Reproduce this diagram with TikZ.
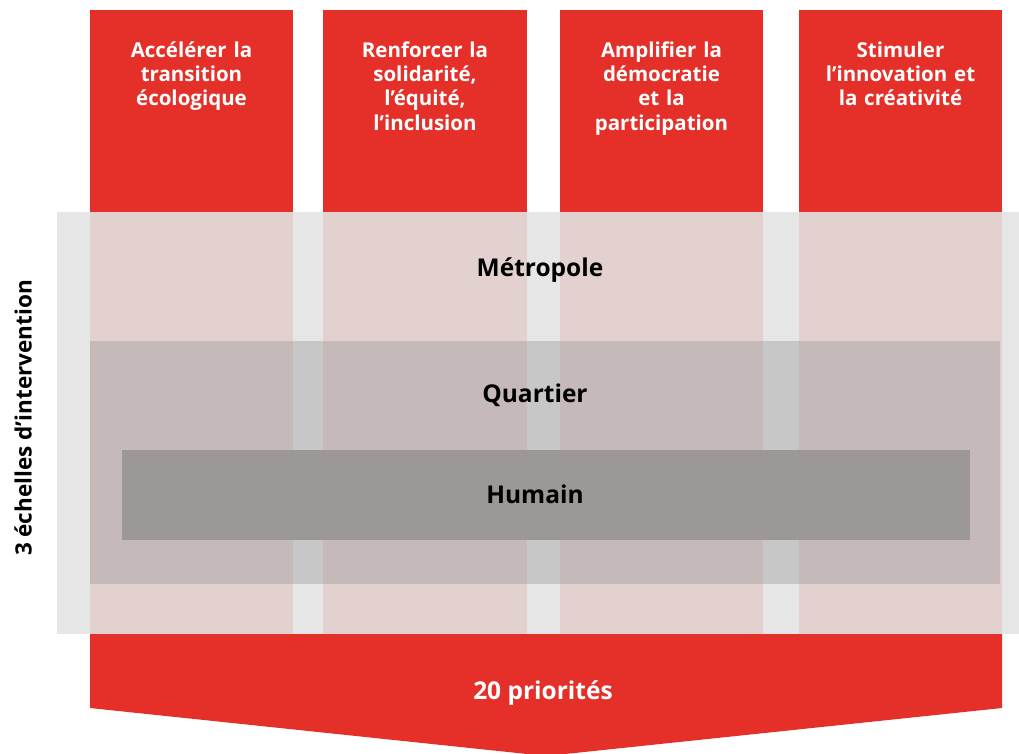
\documentclass[tikz,border=0pt]{standalone}
\usepackage{fontspec}
\setmainfont{Open Sans}
\usetikzlibrary{positioning}

\definecolor{rouge}{HTML}{E5302A}
\definecolor{voile}{HTML}{E3E3E3}
\definecolor{ombre}{HTML}{929292}
\definecolor{humaingris}{HTML}{9C9895}

\tikzset{
  axe/.style={anchor=north, text width=200pt, align=center, text=white,
    font=\bfseries\fontsize{20.5}{24.3}\selectfont},
  echelle/.style={font=\bfseries\fontsize{24.5}{28}\selectfont, text=black}
}

\begin{document}
\begin{tikzpicture}[x=1pt, y=-1pt]
    \useasboundingbox (0,0) rectangle (1019,753);

    % colonnes et fleche
    \foreach \xa/\xb in {90/293, 323/527, 560/763, 799/1002}
        \fill[rouge] (\xa,10) rectangle (\xb,634);
    \fill[rouge] (90,634) -- (1002,634) -- (1002,708) -- (546,756) -- (90,708) -- cycle;

    % echelles
    \fill[voile, opacity=0.9] (57,212) rectangle (1019,634);
    \fill[ombre, opacity=0.37] (90,341) rectangle (1000,584);
    \fill[humaingris] (122,450) rectangle (970,540);

    \node[axe] (a) at (191.5,38) {Accélérer la\\transition\\écologique};
    \node[axe] (b) at (425,38) {Renforcer la\\solidarité,\\l’équité,\\l’inclusion};
    \node[axe] (c) at (661.5,38) {Amplifier la\\démocratie\\et la\\participation};
    \node[axe] (d) at (900.5,38) {Stimuler\\l’innovation et\\la créativité};

    \node[echelle] (metropole) at (540,270) {Métropole};
    \node[echelle] (quartier) at (535,395) {Quartier};
    \node[echelle] (humain) at (535,494) {Humain};
    \node[echelle, text=white] (prio) at (543,693) {20 priorités};
    \node[echelle, rotate=90, font=\bfseries\fontsize{22.5}{26}\selectfont] (titre) at (23,418) {3 échelles d’intervention};
\end{tikzpicture}
\end{document}
